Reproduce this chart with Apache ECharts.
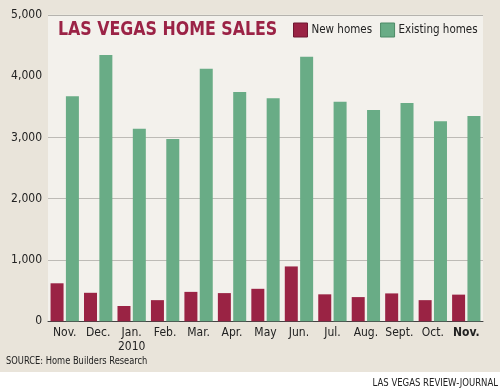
<!DOCTYPE html>
<html><head><meta charset="utf-8">
<script src="https://cdn.jsdelivr.net/npm/echarts@6/dist/echarts.min.js"></script>
<style>html,body{margin:0;padding:0;background:#e9e4da;}#c{width:500px;height:392px;}</style>
</head><body><div id="c"></div>
<script>
var categories = ['Nov.','Dec.','Jan.\n2010','Feb.','Mar.','Apr.','May','Jun.','Jul.','Aug.','Sept.','Oct.','Nov.'];
var newHomes = [620, 465, 250, 345, 480, 460, 530, 895, 440, 395, 455, 345, 435];
var existingHomes = [3670, 4345, 3140, 2975, 4120, 3740, 3640, 4315, 3580, 3445, 3560, 3265, 3350];
var yTicks = [0, 1000, 2000, 3000, 4000, 5000];

var FONT = "'DejaVu Sans Condensed',sans-serif";
var RED = '#9a2344', GREEN = '#69ac86';
var chart = echarts.init(document.getElementById('c'), null, {renderer:'canvas'});
chart.setOption({
  backgroundColor: '#e9e4da',
  animation: false,
  legend: {
    left: 293, top: 22.5, padding: 0, itemWidth: 14, itemHeight: 14, itemGap: 8, width: 207,
    icon: 'rect',
    textStyle: {fontFamily: FONT, fontSize: 11.5, color: '#222', padding: [0,0,0,-1]},
    data: [
      {name: 'New homes', itemStyle: {borderColor: '#6e1730', borderWidth: 1}},
      {name: 'Existing homes', itemStyle: {borderColor: '#4d8a66', borderWidth: 1}}
    ]
  },
  grid: {left: 48, right: 17, top: 14.8, bottom: 70.7, show: true, backgroundColor: '#f3f1ec', borderWidth: 0},
  xAxis: {
    type: 'category', data: categories,
    axisLine: {lineStyle: {color: '#444', width: 1}},
    axisTick: {inside: true, length: 4, lineStyle: {color: '#666'}},
    axisLabel: {
      margin: 5, fontFamily: FONT, fontSize: 12, color: '#222', lineHeight: 14, interval: 0,
      formatter: function (v, i) { return i === categories.length - 1 ? '{b|' + v + '}' : v; },
      rich: {b: {fontFamily: FONT, fontSize: 12, fontWeight: 'bold', color: '#222'}}
    }
  },
  yAxis: {
    type: 'value', min: yTicks[0], max: yTicks[yTicks.length-1], interval: 1000,
    axisLine: {show: false}, axisTick: {show: false},
    axisLabel: {margin: 6, fontFamily: FONT, fontSize: 12, color: '#222',
      formatter: function (v) { return v.toLocaleString('en-US'); }},
    splitLine: {lineStyle: {color: ['#bdbbb6','#bdbbb6','#bdbbb6','#bdbbb6','rgba(0,0,0,0)','#b5b3ae'], width: 1}}
  },
  series: [
    {name: 'New homes', type: 'bar', data: newHomes, barWidth: 13, barGap: '18%', itemStyle: {color: RED}},
    {name: 'Existing homes', type: 'bar', data: existingHomes, barWidth: 13, itemStyle: {color: GREEN}}
  ],
  graphic: [
    {type: 'rect', shape: {x: 0, y: 372, width: 500, height: 20}, style: {fill: '#ffffff'}, silent: true},
    {type: 'text', x: 58, y: 29.5, scaleX: 0.88, z: 10,
      style: {text: 'LAS VEGAS HOME SALES', font: "bold 20px " + FONT, fill: '#9b2346', verticalAlign: 'middle'}},
    {type: 'text', x: 6, y: 361.5, scaleX: 0.84,
      style: {text: 'SOURCE: Home Builders Research', font: "11px " + FONT, fill: '#222', verticalAlign: 'middle'}},
    {type: 'text', x: 498, y: 383, scaleX: 0.86,
      style: {text: 'LAS VEGAS REVIEW-JOURNAL', font: "11px " + FONT, fill: '#222', align: 'right', verticalAlign: 'middle'}}
  ]
});
</script></body></html>
